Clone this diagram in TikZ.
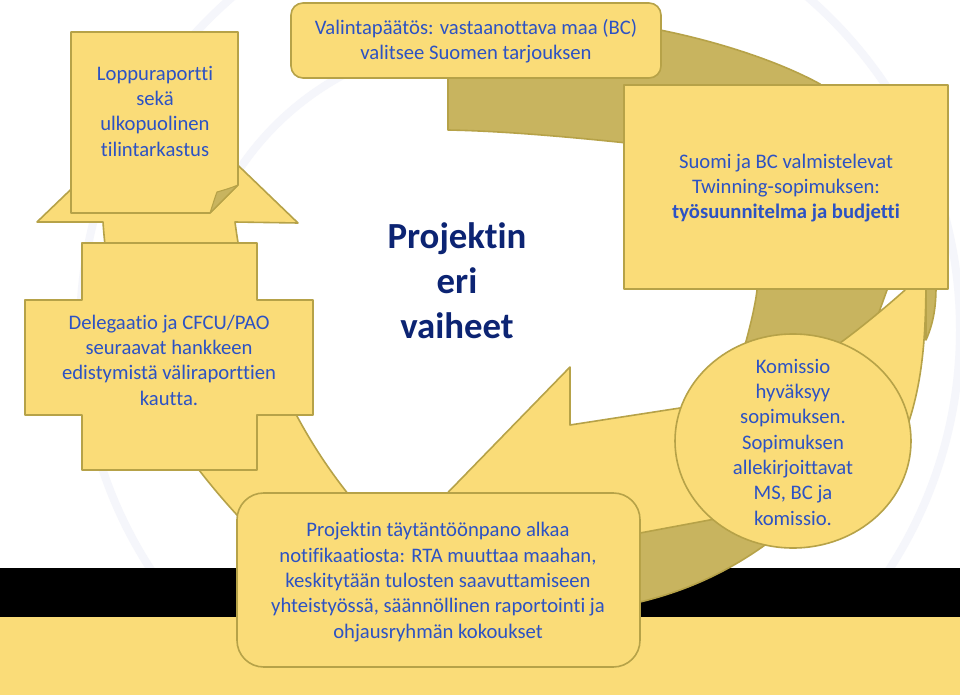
\documentclass[tikz,border=0pt]{standalone}
\usepackage{fontspec}
\setmainfont{Carlito}[Ligatures=NoCommon]
\definecolor{fillY}{RGB}{250,220,120}
\definecolor{darkY}{RGB}{200,180,95}
\definecolor{edgeY}{RGB}{182,162,72}
\definecolor{txtB}{RGB}{44,82,196}
\definecolor{navy}{RGB}{12,36,115}
\definecolor{wm}{RGB}{245,246,251}
\tikzset{
  shapeY/.style={fill=fillY, draw=edgeY, line width=1.2pt, line join=round},
  shapeD/.style={fill=darkY, draw=edgeY, line width=1.2pt, line join=round},
  bodytext/.style={text=txtB, font=\fontsize{15.5}{19}\selectfont, align=center, inner sep=0pt},
  titletext/.style={text=navy, font=\fontsize{27.6}{33.7}\selectfont\bfseries, align=center, inner sep=0pt},
}
\begin{document}
\begin{tikzpicture}[x=0.75pt,y=-0.75pt]
\useasboundingbox (0,0) rectangle (960,695);
\fill[white] (0,0) rectangle (960,695);
% faint watermark
\draw[wm, line width=6pt] (480,330) circle [radius=217pt];
\draw[wm, line width=6pt] (520,330) circle [radius=330pt];
% bottom bands
\fill[black] (0,568) rectangle (960,617);
\fill[fillY] (0,617) rectangle (960,695);
% dark back face of the ribbon
\path[shapeD] (448,22) .. controls (560,16) and (620,22) .. (660,30)
  .. controls (720,42) and (780,62) .. (820,84)
  .. controls (870,140) and (895,220) .. (887,290)
  -- (878,315)
  .. controls (860,420) and (820,500) .. (765,545)
  .. controls (730,570) and (690,590) .. (640,602)
  -- (600,612) -- (600,540) -- (700,430) -- (745,345)
  .. controls (752,320) and (756,300) .. (757,290)
  .. controls (740,200) and (700,160) .. (627,143)
  .. controls (560,136) and (500,131) .. (448,130) -- cycle;
% right yellow piece
\path[shapeY] (900,270) -- (926,270) .. controls (926,330) and (924,380) .. (906,430)
  -- (850,400) -- (840,343) .. controls (858,330) and (885,308) .. (905,290) -- cycle;
\path[shapeD] (926,286) -- (936,286) .. controls (936,305) and (934,322) .. (926,340) -- cycle;
% yellow arrow from the circle to the bottom
\path[shapeY] (760,398) -- (680,408) -- (570,425) -- (570,367) -- (426,515)
  -- (575,625) -- (600,541) -- (640,533) -- (715,519) -- (760,505) -- cycle;
% yellow left band with up arrowhead
\path[shapeY] (380,560) -- (360,510) -- (345,490)
  .. controls (275,400) and (245,300) .. (235,222)
  -- (298,223) -- (167,97) -- (37,222) -- (103,222)
  .. controls (110,330) and (150,420) .. (237,515)
  -- (283,565) -- cycle;
% circle
\path[shapeY] (793,441) ellipse [x radius=88.5pt, y radius=80.25pt];
% boxes
\path[shapeY, rounded corners=9pt] (291,3) rectangle (661,78);
\path[shapeY] (624,85) rectangle (948,289);
\path[shapeY, rounded corners=20pt] (237,493) rectangle (640,667);
\path[shapeY] (82,243) -- (257,243) -- (257,300) -- (313,300) -- (313,415) -- (257,415)
  -- (257,470) -- (82,470) -- (82,415) -- (25,415) -- (25,300) -- (82,300) -- cycle;
\path[shapeY] (71,32) -- (238,32) -- (238,185) -- (210,213) -- (71,213) -- cycle;
\path[shapeD, line width=0.8pt] (238,185) -- (210,213) .. controls (213,204) and (215,197) .. (217,192)
  .. controls (224,190) and (231,188) .. (238,185) -- cycle;
% texts
\node[bodytext] (valinta) at (476,41) {Valintapäätös: vastaanottava maa (BC)\\valitsee Suomen tarjouksen};
\node[bodytext] (twin) at (786,188) {Suomi ja BC valmistelevat\\Twinning-sopimuksen:\\\textbf{työsuunnitelma ja budjetti}};
\node[bodytext] (komissio) at (793,442) {Komissio\\hyväksyy\\sopimuksen.\\Sopimuksen\\allekirjoittavat\\MS, BC ja\\komissio.};
\node[bodytext] (toteutus) at (438,582) {Projektin täytäntöönpano alkaa\\notifikaatiosta: RTA muuttaa maahan,\\keskitytään tulosten saavuttamiseen\\yhteistyössä, säännöllinen raportointi ja\\ohjausryhmän kokoukset};
\node[bodytext] (delegaatio) at (169,360) {Delegaatio ja CFCU/PAO\\seuraavat hankkeen\\edistymistä väliraporttien\\kautta.};
\node[bodytext] (loppu) at (155,111) {Loppuraportti\\sekä\\ulkopuolinen\\tilintarkastus};
\node[titletext] (otsikko) at (457,281) {Projektin\\eri\\vaiheet};
\end{tikzpicture}
\end{document}
